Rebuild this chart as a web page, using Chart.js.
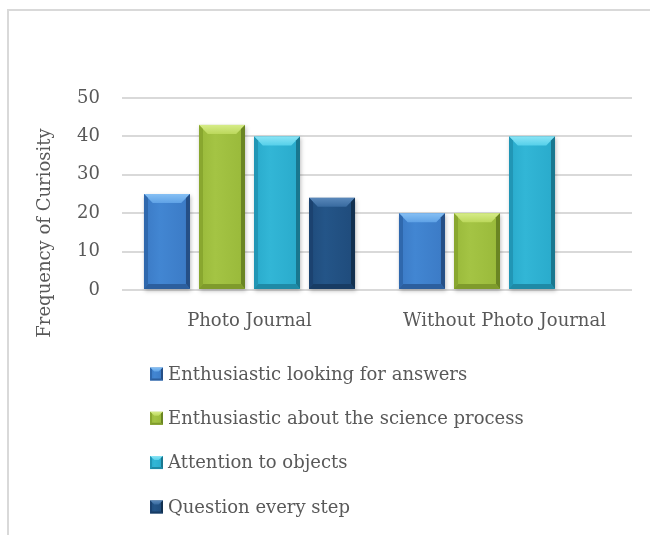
<!DOCTYPE html>
<html>
<head>
<meta charset="utf-8">
<script src="https://cdn.jsdelivr.net/npm/chart.js@4/dist/chart.umd.min.js"></script>
<style>
  html, body { margin: 0; padding: 0; background: #ffffff; }
  #wrap { position: relative; width: 650px; height: 535px; }
</style>
</head>
<body>
<div id="wrap"><canvas id="chart" width="650" height="535"></canvas></div>
<script>
// Groups on the x axis
const categories = ['Photo Journal', 'Without Photo Journal'];

// One series per curiosity indicator
const seriesNames = [
  'Enthusiastic looking for answers',
  'Enthusiastic about the science process',
  'Attention to objects',
  'Question every step'
];
const enthusiasticAnswers = [25, 20];
const enthusiasticProcess = [43, 20];
const attentionObjects = [40, 40];
const questionEveryStep = [24, 0];

// Value axis ticks
const yTicks = [0, 10, 20, 30, 40, 50];
const yTitle = 'Frequency of Curiosity';

// Bar face / bevel colours per series
const palette = [
  { face: '#3b7ac5', faceHi: '#4286d2', top: '#86c0f4', topLo: '#5fa2e6', side: '#2f68ad', right: '#254f86', bottom: '#2c5f9e' },
  { face: '#99b93a', faceHi: '#a4c444', top: '#d6ec88', topLo: '#bcd85c', side: '#89a72f', right: '#6a8523', bottom: '#7f9b2c' },
  { face: '#29aacb', faceHi: '#32b6d6', top: '#8ae4f5', topLo: '#56d0ea', side: '#2196b5', right: '#19778f', bottom: '#1f8aa6' },
  { face: '#1f4b7b', faceHi: '#245588', top: '#5a88ba', topLo: '#386a9f', side: '#1b4270', right: '#12304f', bottom: '#183c64' }
];

const textColor = '#595959';
const fontFamily = '"DejaVu Serif", "Liberation Serif", serif';
const fontSize = 18;

// Draws a bevelled box (face + four sloped edges)
function bevelBox(ctx, x0, y0, x1, y1, c, bt, bs, bb, shadow) {
  const w = x1 - x0, h = y1 - y0;
  if (w <= 0 || h <= 0.5) return;
  bt = Math.min(bt, h / 2); bb = Math.min(bb, h / 2); bs = Math.min(bs, w / 2);
  ctx.save();
  if (shadow) {
    ctx.shadowColor = 'rgba(0,0,0,0.25)';
    ctx.shadowBlur = 4;
    ctx.shadowOffsetX = 1;
    ctx.shadowOffsetY = 2;
  }
  const gFace = ctx.createLinearGradient(x0, 0, x1, 0);
  gFace.addColorStop(0, c.face);
  gFace.addColorStop(0.35, c.faceHi);
  gFace.addColorStop(1, c.face);
  ctx.fillStyle = gFace;
  ctx.fillRect(x0, y0, w, h);
  ctx.restore();

  const poly = (pts, col) => {
    ctx.beginPath();
    ctx.moveTo(pts[0][0], pts[0][1]);
    for (let i = 1; i < pts.length; i++) ctx.lineTo(pts[i][0], pts[i][1]);
    ctx.closePath();
    ctx.fillStyle = col;
    ctx.fill();
  };
  ctx.save();
  // top edge: light
  const gTop = ctx.createLinearGradient(0, y0, 0, y0 + bt);
  gTop.addColorStop(0, c.top);
  gTop.addColorStop(1, c.topLo);
  poly([[x0, y0], [x1, y0], [x1 - bs * 2.2, y0 + bt], [x0 + bs * 2.2, y0 + bt]], gTop);
  // left edge
  poly([[x0, y0], [x0 + bs, y0 + bt * 0.45], [x0 + bs, y1 - bb], [x0, y1]], c.side);
  // right edge: shaded
  poly([[x1, y0], [x1, y1], [x1 - bs, y1 - bb], [x1 - bs, y0 + bt * 0.45]], c.right);
  // bottom edge
  poly([[x0, y1], [x0 + bs, y1 - bb], [x1 - bs, y1 - bb], [x1, y1]], c.bottom);
  ctx.restore();
}

// Light frame around the figure
const framePlugin = {
  id: 'frame',
  beforeDraw(chart) {
    const ctx = chart.ctx;
    ctx.save();
    ctx.strokeStyle = '#d9d9d9';
    ctx.lineWidth = 2;
    ctx.beginPath();
    ctx.moveTo(chart.width, 10);
    ctx.lineTo(8, 10);
    ctx.lineTo(8, chart.height);
    ctx.stroke();
    ctx.restore();
  }
};

// Bevelled rendering of every bar element
const bevelPlugin = {
  id: 'bevel',
  afterDatasetsDraw(chart) {
    const ctx = chart.ctx;
    chart.data.datasets.forEach((ds, di) => {
      const meta = chart.getDatasetMeta(di);
      meta.data.forEach(bar => {
        const p = bar.getProps(['x', 'y', 'base', 'width'], true);
        const x0 = p.x - p.width / 2, x1 = p.x + p.width / 2;
        const y0 = Math.min(p.y, p.base), y1 = Math.max(p.y, p.base);
        bevelBox(ctx, x0, y0, x1, y1, palette[di], 9, 4, 5, true);
      });
    });
  }
};

// Rotated value-axis title
const yTitlePlugin = {
  id: 'yTitle',
  afterDraw(chart) {
    const ctx = chart.ctx;
    const area = chart.chartArea;
    ctx.save();
    ctx.translate(45, area.bottom - 57);
    ctx.rotate(-Math.PI / 2);
    ctx.fillStyle = textColor;
    ctx.font = fontSize + 'px ' + fontFamily;
    ctx.textAlign = 'center';
    ctx.textBaseline = 'middle';
    ctx.fillText(yTitle, 0, 0);
    ctx.restore();
  }
};

// Legend stacked one entry per row under the plot
const stackedLegend = {
  id: 'stackedLegend',
  afterDraw(chart) {
    const ctx = chart.ctx;
    const left = 150, firstRow = 374, rowGap = 44.3, box = 13;
    ctx.save();
    ctx.font = fontSize + 'px ' + fontFamily;
    ctx.textBaseline = 'middle';
    ctx.textAlign = 'left';
    chart.data.datasets.forEach((ds, i) => {
      const y = firstRow + i * rowGap;
      bevelBox(ctx, left, y - box / 2, left + box, y + box / 2, palette[i], 4, 2, 2, false);
      ctx.fillStyle = textColor;
      ctx.fillText(ds.label, left + box + 5, y + 1);
    });
    ctx.restore();
  }
};

const seriesValues = [enthusiasticAnswers, enthusiasticProcess, attentionObjects, questionEveryStep];

new Chart(document.getElementById('chart'), {
  type: 'bar',
  data: {
    labels: categories,
    datasets: seriesNames.map((name, i) => ({
      label: name,
      data: seriesValues[i],
      backgroundColor: 'rgba(0,0,0,0)',
      borderWidth: 0,
      categoryPercentage: 0.863,
      barPercentage: 0.836
    }))
  },
  options: {
    responsive: false,
    animation: false,
    layout: { padding: { top: 98, right: 18, left: 0, bottom: 0 } },
    plugins: {
      legend: { display: false },
      tooltip: { enabled: false },
      title: { display: false }
    },
    scales: {
      x: {
        grid: { display: false, drawTicks: false },
        border: { display: false },
        ticks: {
          color: textColor,
          padding: 21,
          font: { family: fontFamily, size: fontSize }
        },
        afterFit(axis) { axis.height = 245; }
      },
      y: {
        min: yTicks[0],
        max: yTicks[yTicks.length - 1],
        afterBuildTicks(axis) { axis.ticks = yTicks.map(v => ({ value: v })); },
        grid: { color: '#d9d9d9', lineWidth: 2, drawTicks: false },
        border: { display: false },
        ticks: {
          color: textColor,
          padding: 22,
          font: { family: fontFamily, size: fontSize }
        },
        afterFit(axis) { axis.width = 122; }
      }
    }
  },
  plugins: [framePlugin, bevelPlugin, yTitlePlugin, stackedLegend]
});
</script>
</body>
</html>
